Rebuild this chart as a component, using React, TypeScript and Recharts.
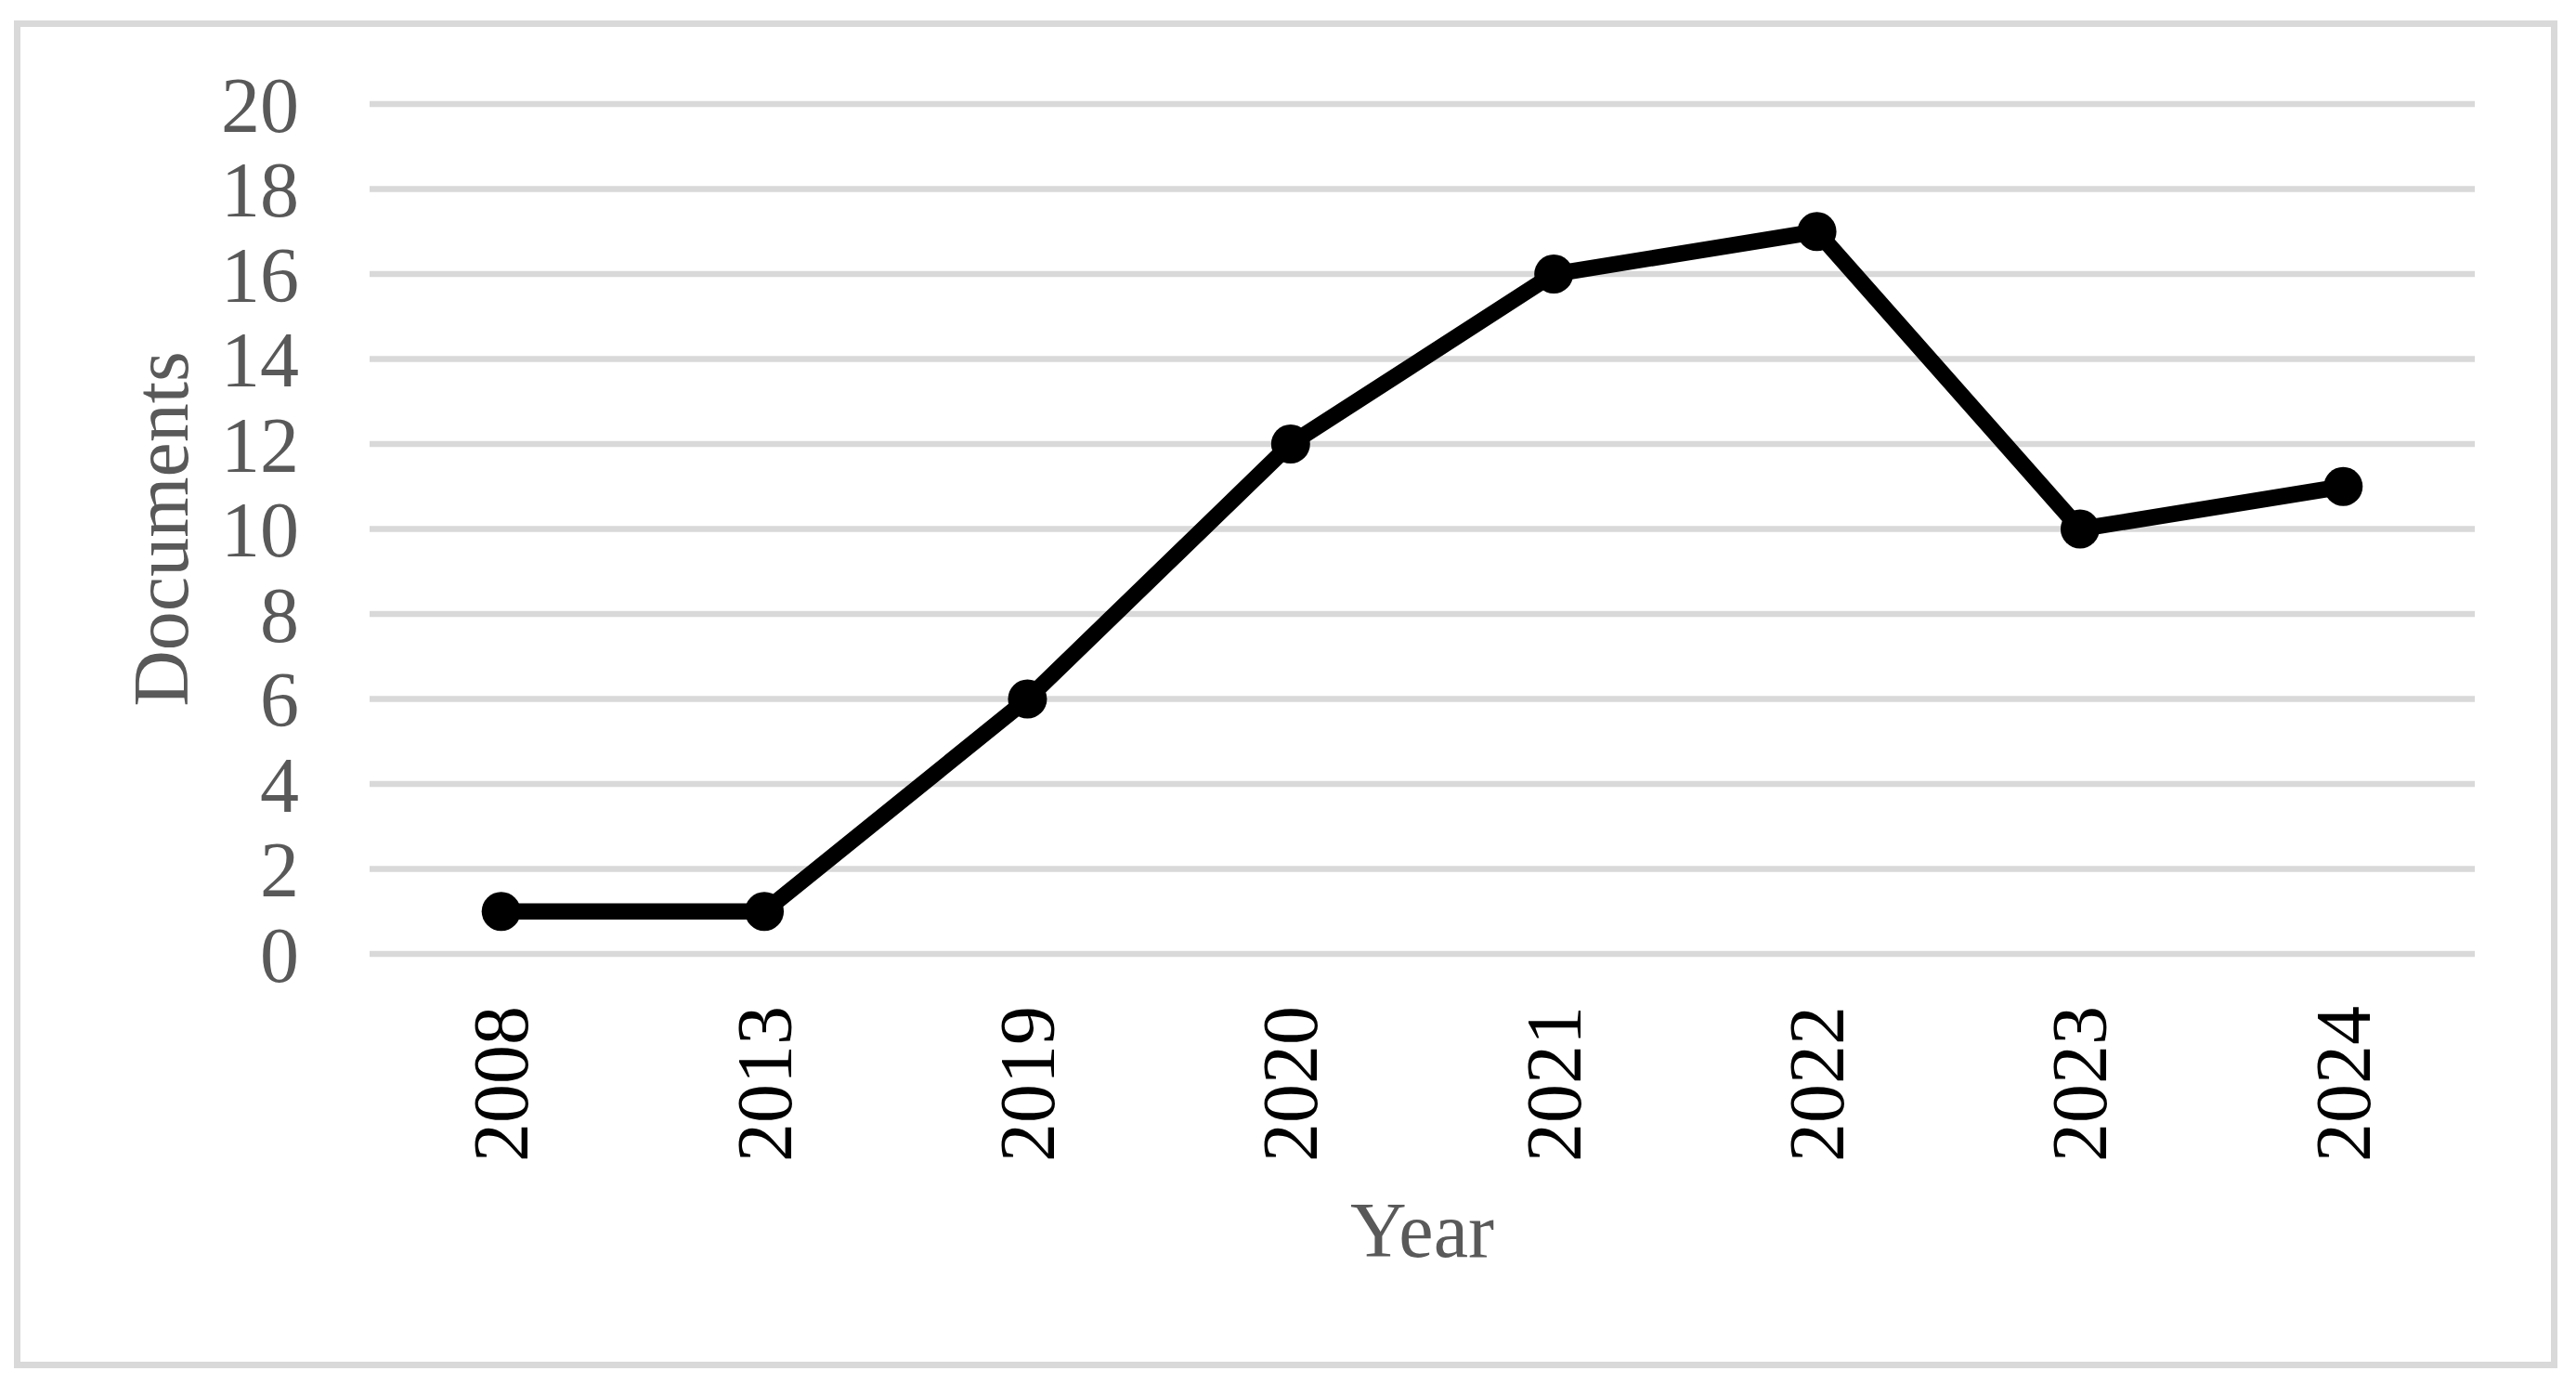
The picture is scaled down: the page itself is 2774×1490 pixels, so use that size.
import React from 'react'
import { LineChart, Line, XAxis, YAxis, CartesianGrid } from 'recharts'

const years = ['2008', '2013', '2019', '2020', '2021', '2022', '2023', '2024']
const documents = [1, 1, 6, 12, 16, 17, 10, 11]
const yTicks = [0, 2, 4, 6, 8, 10, 12, 14, 16, 18, 20]

const FONT = '"Liberation Serif", "Times New Roman", serif'
const GREY_TEXT = '#595959'
const GRID = '#d9d9d9'

const data = years.map((year, i) => ({ year, documents: documents[i] }))

// vertical year labels, read bottom-to-top like the original
function YearTick(props: any) {
  const { x, y, payload } = props
  return (
    <text
      x={x}
      y={y}
      transform={`rotate(-90, ${x}, ${y})`}
      textAnchor="end"
      dominantBaseline="central"
      fontFamily={FONT}
      fontSize={84}
      fill="#000"
    >
      {payload.value}
    </text>
  )
}

export default function App() {
  return (
    <div style={{ position: 'absolute', left: 0, top: 0, width: 2774, height: 1490, background: '#fff' }}>
      <div
        style={{
          position: 'absolute',
          left: 15,
          top: 22,
          width: 2739,
          height: 1451,
          border: `7px solid ${GRID}`,
          boxSizing: 'border-box',
        }}
      />
      <div style={{ position: 'absolute', left: 0, top: 0 }}>
        <LineChart
          width={2774}
          height={1490}
          data={data}
          margin={{ top: 112, right: 109, left: 130, bottom: 123 }}
        >
          <CartesianGrid vertical={false} stroke={GRID} strokeWidth={6.5} />
          <XAxis
            dataKey="year"
            interval={0}
            axisLine={false}
            tickLine={false}
            tickSize={0}
            tickMargin={56}
            height={340}
            padding={{ left: 141.7, right: 141.7 }}
            tick={<YearTick />}
            label={{
              value: 'Year',
              position: 'insideBottom',
              offset: 14,
              style: { fontFamily: FONT, fontSize: 84, fill: GREY_TEXT },
            }}
          />
          <YAxis
            domain={[0, 20]}
            ticks={yTicks}
            interval={0}
            axisLine={false}
            tickLine={false}
            tickSize={0}
            tickMargin={76}
            width={268}
            tick={{ fontFamily: FONT, fontSize: 84, fill: GREY_TEXT }}
            label={{
              value: 'Documents',
              angle: -90,
              position: 'insideLeft',
              offset: 42,
              style: { textAnchor: 'middle', fontFamily: FONT, fontSize: 84, fill: GREY_TEXT },
            }}
          />
          <Line
            type="linear"
            dataKey="documents"
            stroke="#000"
            strokeWidth={17.5}
            dot={{ r: 21, fill: '#000', stroke: '#000', strokeWidth: 0 }}
            activeDot={false}
            isAnimationActive={false}
          />
        </LineChart>
      </div>
    </div>
  )
}
